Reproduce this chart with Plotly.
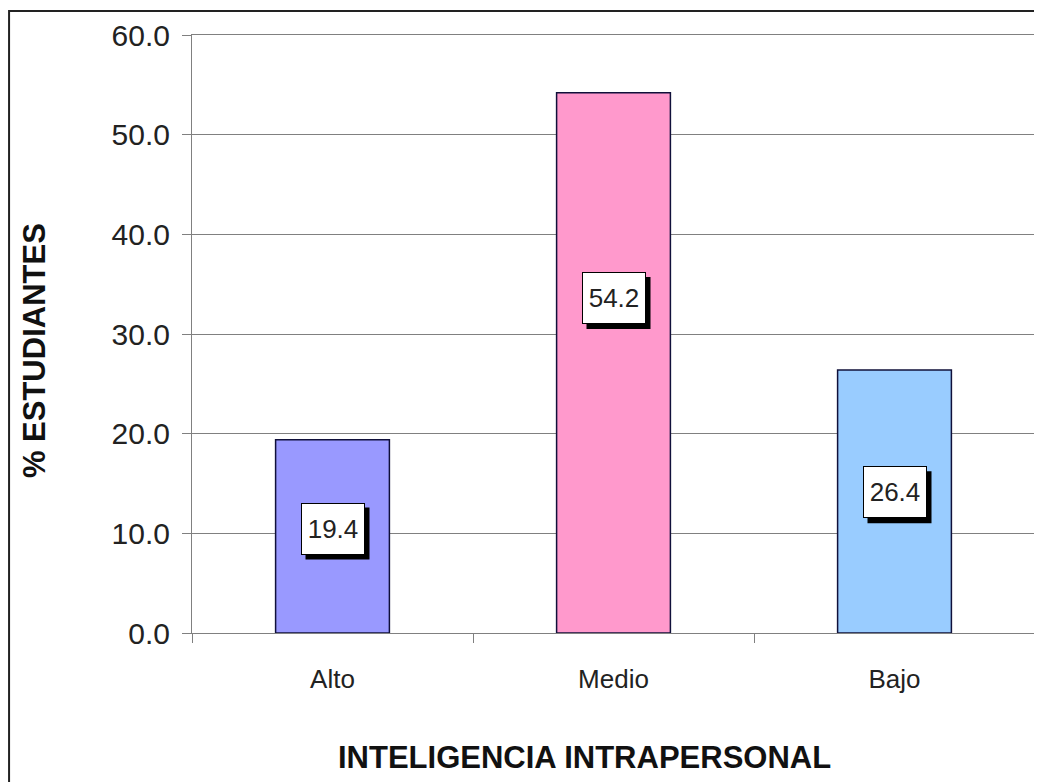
import plotly.graph_objects as go

categories = ["Alto", "Medio", "Bajo"]
values = [19.4, 54.2, 26.4]
bar_colors = ["#9999FF", "#FF99CC", "#99CCFF"]
label_frac = [0.54, 0.62, 0.535]  # vertical position of data-label inside bar (fraction of height)
y_ticks = [0, 10, 20, 30, 40, 50, 60]
y_title = "% ESTUDIANTES"
x_title = "INTELIGENCIA INTRAPERSONAL"

FONT = "Liberation Sans, Arial, sans-serif"
BOX_W, BOX_H, PAD = 58, 46, 2
SH = 5  # shadow offset in px

fig = go.Figure()
fig.add_trace(go.Bar(
    x=categories, y=values,
    marker=dict(color=bar_colors, line=dict(color="#10103a", width=1.5)),
    width=0.405, hoverinfo="skip"
))

annotations = []
shapes = []
half_w = BOX_W / 2 + PAD + 1
half_h = BOX_H / 2 + PAD + 1
for c, v, f in zip(categories, values, label_frac):
    ly = v * f
    shapes.append(dict(type="rect", xref="x", yref="y", xsizemode="pixel", ysizemode="pixel",
                       xanchor=c, yanchor=ly,
                       x0=-half_w + SH, x1=half_w + SH, y0=-half_h - SH, y1=half_h - SH,
                       fillcolor="black", line=dict(width=0), layer="above"))
    annotations.append(dict(x=c, y=ly, xref="x", yref="y", text=f"{v:.1f}", showarrow=False,
                            font=dict(family=FONT, size=26, color="#222222"),
                            bgcolor="white", bordercolor="black", borderwidth=1, borderpad=PAD,
                            width=BOX_W, height=BOX_H))

annotations.append(dict(x=-0.187, y=0.472, xref="paper", yref="paper", text=f"<b>{y_title}</b>",
                        showarrow=False, textangle=-90, xanchor="center", yanchor="middle",
                        font=dict(family=FONT, size=31, color="#111111")))
annotations.append(dict(x=0.466, y=-0.209, xref="paper", yref="paper", text=f"<b>{x_title}</b>",
                        showarrow=False, xanchor="center", yanchor="middle",
                        font=dict(family=FONT, size=31, color="#111111")))

shapes.append(dict(type="rect", xref="paper", yref="paper",
                   x0=-0.217, x1=1.03, y0=-0.3, y1=1.04,
                   line=dict(color="#222222", width=2), fillcolor="rgba(0,0,0,0)", layer="above"))

fig.update_layout(
    width=1034, height=774,
    margin=dict(l=184, r=7, t=27, b=149),
    paper_bgcolor="white", plot_bgcolor="white",
    showlegend=False,
    annotations=annotations,
    shapes=shapes,
    xaxis=dict(
        tickfont=dict(family=FONT, size=26, color="#222222"),
        showline=True, linecolor="#808080", linewidth=1, mirror=True,
        ticks="outside", ticklen=9, tickcolor="#808080", tickson="boundaries",
        showgrid=False, ticklabelstandoff=23,
    ),
    yaxis=dict(
        range=[0, 60], tickvals=y_ticks, tickformat=".1f",
        tickfont=dict(family=FONT, size=30, color="#222222"),
        showline=True, linecolor="#808080", linewidth=1, mirror=True,
        ticks="outside", ticklen=9, tickcolor="#808080",
        showgrid=True, gridcolor="#808080", gridwidth=1, zeroline=False,
        ticklabelstandoff=6,
    ),
)

fig.write_html("out.html")
